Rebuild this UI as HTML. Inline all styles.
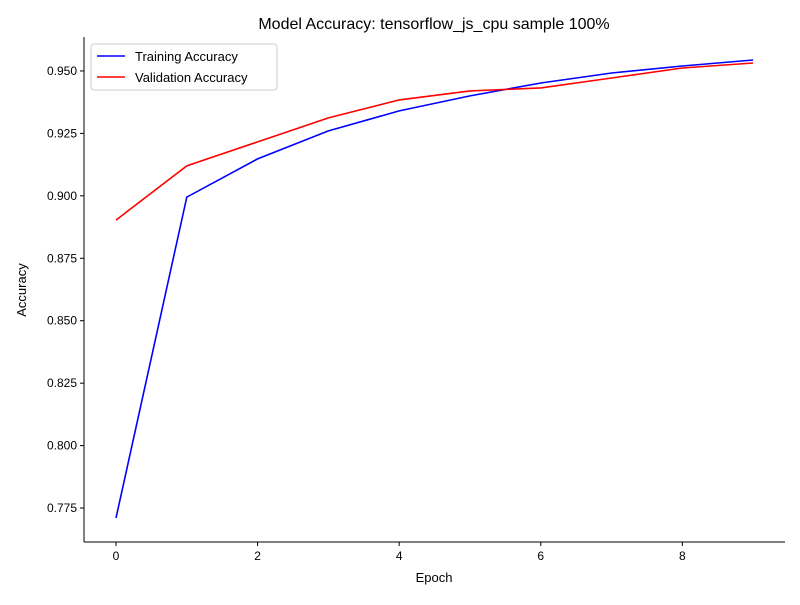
<!DOCTYPE html>
<html><head><meta charset="utf-8"><style>
body{margin:0;background:#fff;font-family:"Liberation Sans","DejaVu Sans",sans-serif;}
</style></head><body>
<svg id="chart" width="800" height="600" xmlns="http://www.w3.org/2000/svg"></svg>
<script>
const epochs=[0,1,2,3,4,5,6,7,8,9];
const trainAcc=[0.771,0.8995,0.9148,0.926,0.934,0.940,0.9452,0.9492,0.952,0.9544];
const valAcc=[0.8903,0.912,0.9216,0.9312,0.9384,0.942,0.9432,0.9472,0.9512,0.9532];
const xTicks=[0,2,4,6,8];
const yTicks=[0.775,0.800,0.825,0.850,0.875,0.900,0.925,0.950];
const L=84,R=785,T=37,B=542;
const xMin=-0.452,xMax=9.45,yMin=0.7614,yMax=0.9636;
const sx=v=>L+(v-xMin)/(xMax-xMin)*(R-L);
const sy=v=>B-(v-yMin)/(yMax-yMin)*(B-T);
const svg=document.getElementById('chart');
const NS='http://www.w3.org/2000/svg';
function mk(tag,attrs,txt){const e=document.createElementNS(NS,tag);for(const k in attrs)e.setAttribute(k,attrs[k]);if(txt!==undefined)e.textContent=txt;svg.appendChild(e);return e;}
let e;
e=mk('text',{x:434,y:29,'text-anchor':'middle','font-size':16,fill:'#000'},'Model Accuracy: tensorflow_js_cpu sample 100%');


e=mk('line',{x1:L,y1:T,x2:L,y2:B,stroke:'#000','stroke-width':1});


e=mk('line',{x1:L,y1:B,x2:R,y2:B,stroke:'#000','stroke-width':1});


xTicks.forEach(t=>{const x=sx(t);
 e=mk('line',{x1:x,y1:B,x2:x,y2:B+4,stroke:'#000'});
 
 
 e=mk('text',{x:x,y:B+18,'text-anchor':'middle','font-size':12,fill:'#000'},String(t));
 
 
});
yTicks.forEach(t=>{const y=sy(t);
 e=mk('line',{x1:L-4,y1:y,x2:L,y2:y,stroke:'#000'});
 
 
 e=mk('text',{x:L-7,y:y+4,'text-anchor':'end','font-size':12,fill:'#000'},t.toFixed(3));
 
 
});
e=mk('text',{x:434,y:582,'text-anchor':'middle','font-size':13,fill:'#000'},'Epoch');


e=mk('text',{x:26,y:290,'text-anchor':'middle','font-size':13,fill:'#000',transform:'rotate(-90 26 290)'},'Accuracy');


function line(vals,color,name){
 const pts=epochs.map((x,i)=>sx(x).toFixed(1)+','+sy(vals[i]).toFixed(1)).join(' ');
 const p=mk('polyline',{points:pts,fill:'none',stroke:color,'stroke-width':1.6});
 
 
}
line(trainAcc,'#0000ff','training-accuracy-line');
line(valAcc,'#ff0000','validation-accuracy-line');
e=mk('rect',{x:91,y:44,width:186,height:46,rx:3,fill:'#fff',stroke:'#ccc'});


e=mk('line',{x1:97,y1:56,x2:125,y2:56,stroke:'#0000ff','stroke-width':1.6});


e=mk('text',{x:135,y:61,'font-size':13,fill:'#000'},'Training Accuracy');


e=mk('line',{x1:97,y1:77,x2:125,y2:77,stroke:'#ff0000','stroke-width':1.6});


e=mk('text',{x:135,y:82,'font-size':13,fill:'#000'},'Validation Accuracy');


</script>
</body></html>
